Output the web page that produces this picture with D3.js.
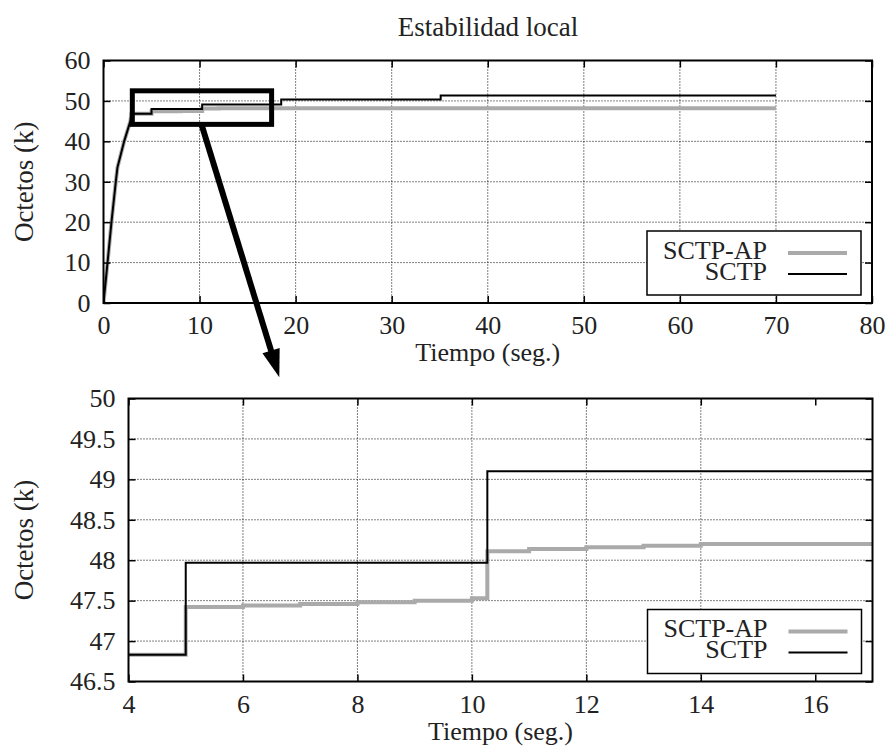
<!DOCTYPE html>
<html>
<head>
<meta charset="utf-8">
<script src="https://cdn.jsdelivr.net/npm/d3@7"></script>
<style>
  body { margin: 0; background: #fff; }
  svg text { font-family: "Liberation Serif", "Times New Roman", "DejaVu Serif", serif !important; }
</style>
</head>
<body>
<div id="chart"></div>
<script>
// datos
var rampTime = [0, 0.42, 0.83, 1.28, 1.45, 2.15, 2.8];
var rampBytes = [0, 10, 20, 30, 33.5, 40, 45];
var sctpTime = [2.9, 5.0, 10.27, 18.5, 35.1, 70];
var sctpBytes = [46.83, 47.97, 49.1, 50.35, 51.35, 51.35];
var apTime = [2.9, 5.0, 6.0, 7.0, 8.0, 9.0, 10.0, 10.27, 11.0, 12.0, 13.0, 14.0, 70];
var apBytes = [46.83, 47.42, 47.44, 47.46, 47.48, 47.5, 47.53, 48.11, 48.14, 48.16, 48.18, 48.2, 48.2];

var topXTicks = [0, 10, 20, 30, 40, 50, 60, 70, 80];
var topYTicks = [0, 10, 20, 30, 40, 50, 60];
var zoomXTicks = [4, 6, 8, 10, 12, 14, 16];
var zoomYTicks = [46.5, 47, 47.5, 48, 48.5, 49, 49.5, 50];

var legendNames = ['SCTP-AP', 'SCTP'];
var zoomBoxX = [3, 17.5], zoomBoxY = [44.2, 52.5];
var arrowFrom = [10.2, 44.2], arrowTo = [18.3, -18.4];

var serif = '"Liberation Serif", "Times New Roman", serif';

function buildSeries(stepT, stepV) {
  var pts = rampTime.map(function(t, i) { return [t, rampBytes[i]]; });
  for (let i = 0; i < stepT.length; i++) {
    pts.push([stepT[i], stepV[i]]);
    if (i + 1 < stepT.length) pts.push([stepT[i + 1], stepV[i]]);
  }
  return pts;
}

var series = [
  { name: 'SCTP-AP', pts: buildSeries(apTime, apBytes), color: '#aaaaaa', w: 4 },
  { name: 'SCTP', pts: buildSeries(sctpTime, sctpBytes), color: '#000', w: 2 }
];

var svg = d3.select('#chart').append('svg').attr('width', 893).attr('height', 746)
  .attr('font-family', serif);

svg.append('text').attr('x', 488).attr('y', 30)
  .attr('text-anchor', 'middle').attr('dominant-baseline', 'middle')
  .attr('font-family', serif).style('font-size', '27px').attr('fill', '#222').text('Estabilidad local');

function panel(opt, id) {
  var x = d3.scaleLinear().domain(opt.xd).range([opt.l, opt.r]);
  var y = d3.scaleLinear().domain(opt.yd).range([opt.b, opt.t]);
  var g = svg.append('g');

  g.append('clipPath').attr('id', id).append('rect')
    .attr('x', opt.l).attr('y', opt.t).attr('width', opt.r - opt.l).attr('height', opt.b - opt.t);

  // rejilla punteada
  g.selectAll('.gx').data(opt.xt.slice(1, -1)).enter().append('line')
    .attr('x1', d => x(d)).attr('x2', d => x(d)).attr('y1', opt.t).attr('y2', opt.b)
    .attr('stroke', '#000').attr('stroke-width', 1).attr('stroke-dasharray', '1,2');
  g.selectAll('.gy').data(opt.yt.slice(1, -1)).enter().append('line')
    .attr('y1', d => y(d)).attr('y2', d => y(d)).attr('x1', opt.l).attr('x2', opt.r)
    .attr('stroke', '#000').attr('stroke-width', 1).attr('stroke-dasharray', '1,2');

  var line = d3.line().x(d => x(d[0])).y(d => y(d[1]));
  g.append('g').attr('clip-path', 'url(#' + id + ')')
    .selectAll('path').data(series).enter().append('path')
    .attr('d', d => line(d.pts)).attr('fill', 'none')
    .attr('stroke', d => d.color).attr('stroke-width', d => d.w)
    .attr('stroke-linejoin', 'miter');

  // ejes con marcas en los cuatro lados
  var tk = 7;
  g.append('g').attr('transform', 'translate(0,' + opt.b + ')')
    .call(d3.axisBottom(x).tickValues(opt.xt).tickSizeInner(-tk).tickSizeOuter(0).tickPadding(13).tickFormat(d3.format('~g')));
  g.append('g').attr('transform', 'translate(0,' + opt.t + ')')
    .call(d3.axisTop(x).tickValues(opt.xt).tickSizeInner(-tk).tickSizeOuter(0).tickFormat(''));
  g.append('g').attr('transform', 'translate(' + opt.l + ',0)')
    .call(d3.axisLeft(y).tickValues(opt.yt).tickSizeInner(-tk).tickSizeOuter(0).tickPadding(13).tickFormat(d3.format('~g')));
  g.append('g').attr('transform', 'translate(' + opt.r + ',0)')
    .call(d3.axisRight(y).tickValues(opt.yt).tickSizeInner(-tk).tickSizeOuter(0).tickFormat(''));
  g.selectAll('.domain').remove();
  g.selectAll('g').attr('font-family', serif);
  g.selectAll('.tick line').attr('stroke', '#000').attr('stroke-width', 1.5);
  g.selectAll('.tick text').attr('font-family', serif).style('font-size', '26px').attr('fill', '#222');

  g.append('rect').attr('x', opt.l).attr('y', opt.t)
    .attr('width', opt.r - opt.l).attr('height', opt.b - opt.t)
    .attr('fill', 'none').attr('stroke', '#000').attr('stroke-width', 2);

  // leyenda
  var lg = g.append('g');
  lg.append('rect').attr('x', opt.r - 225).attr('y', opt.b - 72).attr('width', 214).attr('height', 64)
    .attr('fill', '#fff').attr('stroke', '#000').attr('stroke-width', 1.5);
  series.forEach(function(s, i) {
    var ly = opt.b - 50 + i * 21;
    lg.append('text').attr('x', opt.r - 105).attr('y', ly).attr('text-anchor', 'end')
      .attr('dominant-baseline', 'middle').attr('font-family', serif).style('font-size', '26px')
      .attr('fill', '#222').text(legendNames[i]);
    lg.append('line').attr('x1', opt.r - 84).attr('x2', opt.r - 25).attr('y1', ly).attr('y2', ly)
      .attr('stroke', s.color).attr('stroke-width', s.w);
  });

  g.append('text').attr('x', (opt.l + opt.r) / 2).attr('y', opt.b + 58)
    .attr('text-anchor', 'middle')
    .attr('font-family', serif).style('font-size', '26px').attr('fill', '#222').text('Tiempo (seg.)');
  g.append('text').attr('transform', 'translate(27,' + (opt.t + opt.b) / 2 + ') rotate(-90)')
    .attr('text-anchor', 'middle').attr('dominant-baseline', 'middle')
    .attr('font-family', serif).style('font-size', '27px').attr('fill', '#222').text('Octetos (k)');
  return { x: x, y: y };
}

var overview = panel({ xd: [0, 80], yd: [0, 60], l: 103.5, r: 872, t: 60.5, b: 303, xt: topXTicks, yt: topYTicks }, 'clipTop');
panel({ xd: [4, 17], yd: [46.5, 50], l: 128.5, r: 872.5, t: 398.5, b: 681.5, xt: zoomXTicks, yt: zoomYTicks }, 'clipZoom');

// recuadro de ampliación y flecha
svg.append('rect')
  .attr('x', overview.x(zoomBoxX[0])).attr('y', overview.y(zoomBoxY[1]))
  .attr('width', overview.x(zoomBoxX[1]) - overview.x(zoomBoxX[0]))
  .attr('height', overview.y(zoomBoxY[0]) - overview.y(zoomBoxY[1]))
  .attr('fill', 'none').attr('stroke', '#000').attr('stroke-width', 5);

var ax0 = overview.x(arrowFrom[0]), ay0 = overview.y(arrowFrom[1]);
var ax1 = overview.x(arrowTo[0]), ay1 = overview.y(arrowTo[1]);
var len = Math.hypot(ax1 - ax0, ay1 - ay0), ux = (ax1 - ax0) / len, uy = (ay1 - ay0) / len;
var headL = 28, headW = 9;
svg.append('line').attr('x1', ax0).attr('y1', ay0)
  .attr('x2', ax1 - ux * headL * 0.8).attr('y2', ay1 - uy * headL * 0.8)
  .attr('stroke', '#000').attr('stroke-width', 6);
var bx = ax1 - ux * headL, by = ay1 - uy * headL;
svg.append('path')
  .attr('d', 'M' + ax1 + ',' + ay1 + 'L' + (bx - uy * headW) + ',' + (by + ux * headW) +
    'L' + (bx + uy * headW) + ',' + (by - ux * headW) + 'Z')
  .attr('fill', '#000');
</script>
</body>
</html>
